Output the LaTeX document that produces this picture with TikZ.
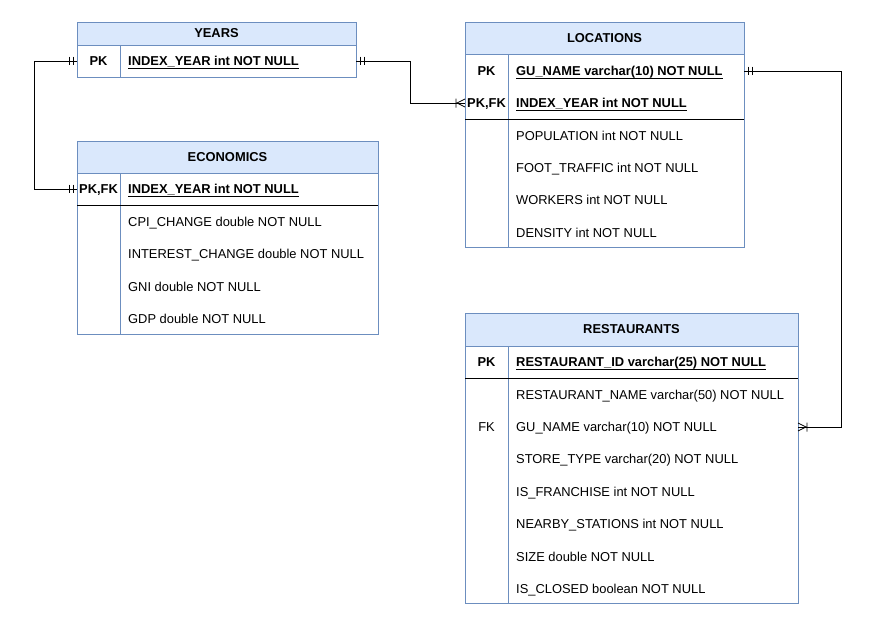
\documentclass[tikz,border=0pt]{standalone}
\usepackage{fontspec}
\setmainfont{Liberation Sans}
\definecolor{erblue}{HTML}{6C8EBF}
\definecolor{erfill}{HTML}{DAE8FC}
\newcommand{\ulx}[1]{\setbox0=\hbox{#1}\rlap{\rule[-3.1pt]{\wd0}{1.1pt}}\box0}
\newcommand{\fsz}{\fontsize{12.9}{15}\selectfont}
\begin{document}
\begin{tikzpicture}[x=1pt,y=-1pt,
  hdr/.style={draw=erblue, fill=erfill, line width=0.9pt, inner sep=0pt, outer sep=0pt, anchor=north west, font=\fsz\bfseries},
  body/.style={draw=erblue, line width=0.9pt, inner sep=0pt, outer sep=0pt, anchor=north west},
  rowref/.style={inner sep=0pt, outer sep=0pt, minimum height=32, anchor=center},
  fld/.style={inner sep=0pt, anchor=base west, font=\fsz},
  keyfld/.style={inner sep=0pt, anchor=base west, font=\fsz\bfseries},
  klab/.style={inner sep=0pt, anchor=base, font=\fsz\bfseries},
  klabn/.style={inner sep=0pt, anchor=base, font=\fsz},
  conn/.style={draw=black, line width=0.85pt},
  sep/.style={draw=black, line width=1pt},
  col/.style={draw=erblue, line width=0.9pt},
  mone/.pic={\draw[conn] (4,-4.3) -- (4,4.3) (8,-4.3) -- (8,4.3);},
  mmany/.pic={\draw[conn] (0,-4) -- (8,0) -- (0,4) (9,-4.5) -- (9,4.5);}
]
\fill[white] (0,0) rectangle (887,625);
\useasboundingbox (0,0) rectangle (887,625);

% ---------- YEARS ----------
\node[hdr, minimum width=279, minimum height=23] (years) at (77,22) {YEARS};
\node[body, minimum width=279, minimum height=32] (yb) at (77,45) {};
\draw[col] ([xshift=43]yb.north west) -- ([xshift=43]yb.south west);
\node[klab] (ypk) at (98.5,65.6) {PK};
\node[keyfld] (yf1) at (128,65.6) {\ulx{INDEX\_YEAR int NOT NULL}};

% ---------- ECONOMICS ----------
\node[hdr, minimum width=301, minimum height=32] (econ) at (77,141) {ECONOMICS};
\node[body, minimum width=301, minimum height=161] (eb) at (77,173) {};
\node[rowref, minimum width=301] (ek) at (227.5,189) {};
\draw[col] ([xshift=43]eb.north west) -- ([xshift=43]eb.south west);
\draw[sep] (ek.south west) -- (ek.south east);
\node[klab] (epk) at (98.5,193.6) {PK,FK};
\node[keyfld] (ef1) at (128,193.6) {\ulx{INDEX\_YEAR int NOT NULL}};
\node[fld] (ef2) at (128,226.2) {CPI\_CHANGE double NOT NULL};
\node[fld] (ef3) at (128,258.6) {INTEREST\_CHANGE double NOT NULL};
\node[fld] (ef4) at (128,291.0) {GNI double NOT NULL};
\node[fld] (ef5) at (128,323.4) {GDP double NOT NULL};

% ---------- LOCATIONS ----------
\node[hdr, minimum width=279, minimum height=32] (loc) at (465,22) {LOCATIONS};
\node[body, minimum width=279, minimum height=193] (lb) at (465,54) {};
\node[rowref, minimum width=279] (lk1) at (604.5,71) {};
\node[rowref, minimum width=279] (lk2) at (604.5,103) {};
\draw[col] ([xshift=43]lb.north west) -- ([xshift=43]lb.south west);
\draw[sep] ([yshift=-16]lk2.center -| lb.west) -- ([yshift=-16]lk2.center -| lb.east);
\node[klab] (lpk1) at (486.5,75.6) {PK};
\node[klab] (lpk2) at (486.5,107.6) {PK,FK};
\node[keyfld] (lf1) at (516,75.6) {\ulx{GU\_NAME varchar(10) NOT NULL}};
\node[keyfld] (lf2) at (516,107.6) {\ulx{INDEX\_YEAR int NOT NULL}};
\node[fld] (lf3) at (516,140.4) {POPULATION int NOT NULL};
\node[fld] (lf4) at (516,172.6) {FOOT\_TRAFFIC int NOT NULL};
\node[fld] (lf5) at (516,204.8) {WORKERS int NOT NULL};
\node[fld] (lf6) at (516,237.0) {DENSITY int NOT NULL};

% ---------- RESTAURANTS ----------
\node[hdr, minimum width=333, minimum height=33] (rest) at (465,313) {RESTAURANTS};
\node[body, minimum width=333, minimum height=257] (rb) at (465,346) {};
\node[rowref, minimum width=333] (rk) at (631.5,362) {};
\node[rowref, minimum width=333] (rfk) at (631.5,427) {};
\draw[col] ([xshift=43]rb.north west) -- ([xshift=43]rb.south west);
\draw[sep] (rk.south west) -- (rk.south east);
\node[klab] (rpk) at (486.5,366.6) {PK};
\node[klabn] (rfkl) at (486.5,431.6) {FK};
\node[keyfld] (rf1) at (516,366.6) {\ulx{RESTAURANT\_ID varchar(25) NOT NULL}};
\node[fld] (rf2) at (516,399.0) {RESTAURANT\_NAME varchar(50) NOT NULL};
\node[fld] (rf3) at (516,431.4) {GU\_NAME varchar(10) NOT NULL};
\node[fld] (rf4) at (516,463.8) {STORE\_TYPE varchar(20) NOT NULL};
\node[fld] (rf5) at (516,496.2) {IS\_FRANCHISE int NOT NULL};
\node[fld] (rf6) at (516,528.6) {NEARBY\_STATIONS int NOT NULL};
\node[fld] (rf7) at (516,561.0) {SIZE double NOT NULL};
\node[fld] (rf8) at (516,593.4) {IS\_CLOSED boolean NOT NULL};

% ---------- connectors ----------
\draw[conn] (yb.east) -- ++(54,0) |- (lk2.west);
\draw[conn] (yb.west) -- ++(-43,0) |- (ek.west);
\draw[conn] (lk1.east) -- ++(97,0) |- (rfk.east);

\pic at (yb.east) {mone};
\pic[xscale=-1] at (yb.west) {mone};
\pic[xscale=-1] at (ek.west) {mone};
\pic[xscale=-1] at (lk2.west) {mmany};
\pic at (lk1.east) {mone};
\pic at (rfk.east) {mmany};
\end{tikzpicture}
\end{document}
